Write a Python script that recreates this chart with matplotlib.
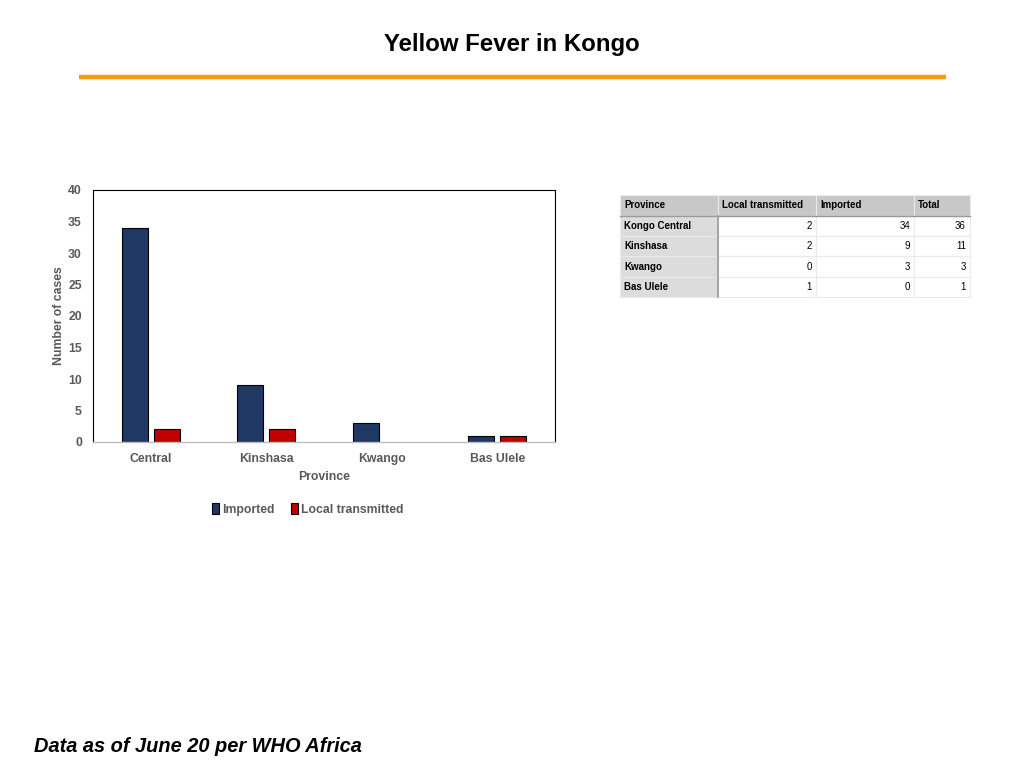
import numpy as np
import matplotlib
matplotlib.use("Agg")
import matplotlib.pyplot as plt
from matplotlib.patches import Rectangle

# Data
provinces = ["Central", "Kinshasa", "Kwango", "Bas Ulele"]
imported = [34, 9, 3, 1]
local_transmitted = [2, 2, 0, 1]

table_header = ["Province", "Local transmitted", "Imported", "Total"]
table_names = ["Kongo Central", "Kinshasa", "Kwango", "Bas Ulele"]
table_local = [2, 2, 0, 1]
table_imported = [34, 9, 3, 0]
table_total = [36, 11, 3, 1]

NAVY = "#203864"
RED = "#C00000"
GRAY_TXT = "#595959"

plt.rcParams['font.family'] = ['Liberation Sans', 'DejaVu Sans']
plt.rcParams['font.weight'] = 'bold'

fig = plt.figure(figsize=(10.24, 7.68), dpi=100)

# Title and orange rule
fig.text(0.5, 1 - 45 / 768, "Yellow Fever in Kongo", ha="center", va="center",
         fontsize=17.3, fontweight="bold", color="black")
fig.add_artist(plt.Line2D([79 / 1024, 946 / 1024], [1 - 77 / 768, 1 - 77 / 768],
                          color="#F59A12", linewidth=3.2, solid_capstyle="butt"))

# Bar chart
ax = fig.add_axes([93 / 1024, 1 - 442 / 768, 462 / 1024, 252 / 768])
x = np.arange(len(provinces))
w = 0.225
off = 0.139
b1 = ax.bar(x - off, imported, w, color=NAVY, edgecolor="black", linewidth=0.8, label="Imported")
b2 = ax.bar(x + off, local_transmitted, w, color=RED, edgecolor="black", linewidth=0.8,
            label="Local transmitted")
for p in list(b1) + list(b2):
    if p.get_height() == 0:
        p.set_visible(False)
ax.set_xlim(-0.5, len(provinces) - 0.5)
ax.set_ylim(0, 40)
ax.set_yticks(np.arange(0, 41, 5))
ax.set_xticks(x)
ax.set_xticklabels(provinces)
ax.tick_params(axis="both", length=0, labelsize=8.8, labelcolor=GRAY_TXT)
ax.tick_params(axis="x", pad=8)
ax.tick_params(axis="y", pad=8)
for s in ["top", "right", "left"]:
    ax.spines[s].set_color("black")
    ax.spines[s].set_linewidth(0.8)
ax.spines["bottom"].set_color("#BFBFBF")
ax.spines["bottom"].set_linewidth(1.0)
ax.set_xlabel("Province", fontsize=8.8, color=GRAY_TXT, fontweight="bold", labelpad=4)
ax.set_ylabel("Number of cases", fontsize=8.8, color=GRAY_TXT, fontweight="bold", labelpad=2)
ax.legend(loc="upper center", bbox_to_anchor=(0.465, -0.2), ncol=2, frameon=False,
          fontsize=8.8, labelcolor=GRAY_TXT, handlelength=0.6, handleheight=0.9,
          handletextpad=0.25, columnspacing=1.3)

# Table, drawn in pixel coordinates
tax = fig.add_axes([0, 0, 1, 1])
tax.set_xlim(0, 1024)
tax.set_ylim(768, 0)
tax.axis("off")
col_edges = [620, 718, 816, 914, 970]
row_edges = [195, 216, 236, 256, 277, 297]
rows = [table_header] + [[n, str(l), str(i), str(t)] for n, l, i, t in
                         zip(table_names, table_local, table_imported, table_total)]
for r, row in enumerate(rows):
    y0, y1 = row_edges[r], row_edges[r + 1]
    for c, val in enumerate(row):
        x0, x1 = col_edges[c], col_edges[c + 1]
        if r == 0:
            fc = "#C8C8C8"
        elif c == 0:
            fc = "#DCDCDC"
        else:
            fc = "white"
        tax.add_patch(Rectangle((x0, y0), x1 - x0, y1 - y0, facecolor=fc,
                                edgecolor="#EAEAEA", linewidth=0.8))
        ym = (y0 + y1) / 2
        if r == 0 or c == 0:
            tax.text(x0 + 4, ym, val, ha="left", va="center", fontsize=7,
                     fontweight="bold", color="black")
        else:
            tax.text(x1 - 4, ym, val, ha="right", va="center", fontsize=7,
                     fontweight="normal", color="black")
tax.plot([620, 970], [216, 216], color="#9A9A9A", linewidth=1.0)
tax.plot([718, 718], [216, 297], color="#9A9A9A", linewidth=1.2)

# Footer
fig.text(34 / 1024, 1 - 746 / 768, "Data as of June 20 per WHO Africa", ha="left", va="center",
         fontsize=14.4, fontweight="bold", fontstyle="italic", color="black")

fig.savefig("out.png", dpi=100)
